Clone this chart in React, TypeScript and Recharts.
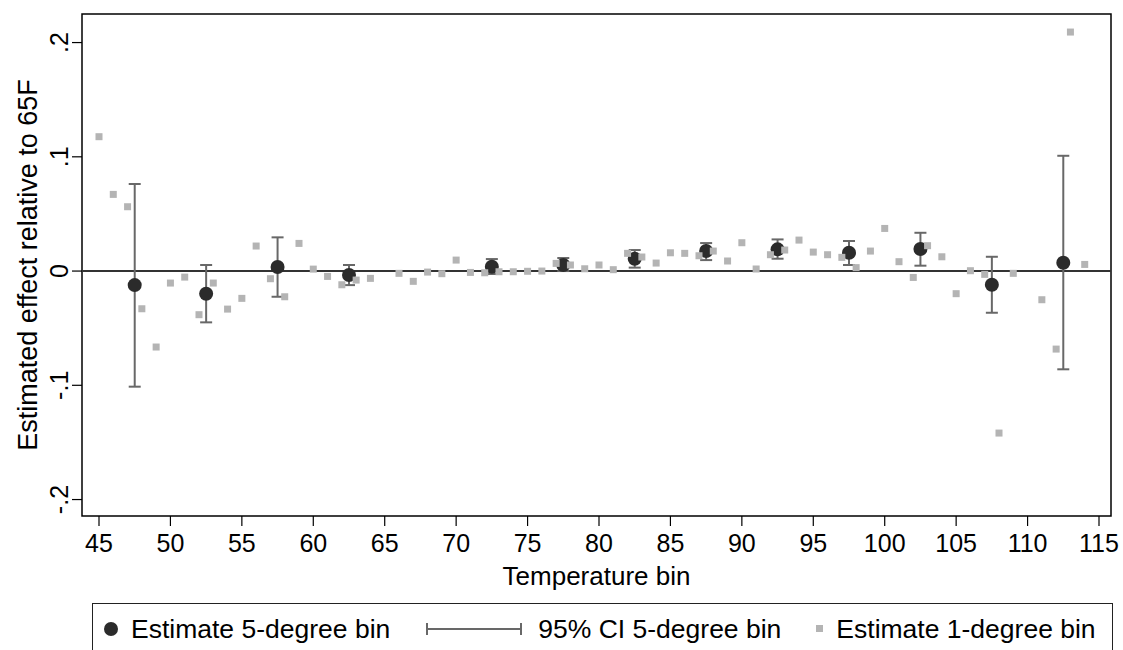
import {
  ScatterChart, Scatter, XAxis, YAxis, ErrorBar, ReferenceLine, ReferenceArea,
} from 'recharts';

// 5-degree bins (65-70 is the omitted reference bin)
const binCenters = [47.5, 52.5, 57.5, 62.5, 72.5, 77.5, 82.5, 87.5, 92.5, 97.5, 102.5, 107.5, 112.5];
const binEstimates = [-0.0123, -0.0198, 0.0035, -0.0035, 0.0038, 0.0053, 0.0108, 0.0175, 0.019, 0.016, 0.0193, -0.012, 0.0073];
const ciLower = [-0.1012, -0.0449, -0.0225, -0.0123, -0.0026, 0.0, 0.003, 0.0096, 0.0108, 0.0053, 0.0047, -0.0365, -0.086];
const ciUpper = [0.0762, 0.0053, 0.0295, 0.0053, 0.0105, 0.0114, 0.0184, 0.0245, 0.0277, 0.0263, 0.0335, 0.0125, 0.1009];

// 1-degree bins (65 omitted, 110 not shown)
const degreeTemps = [
  45, 46, 47, 48, 49, 50, 51, 52, 53, 54, 55, 56, 57, 58, 59, 60, 61, 62, 63, 64,
  66, 67, 68, 69, 70, 71, 72, 73, 74, 75, 76, 77, 78, 79, 80, 81, 82, 83, 84, 85,
  86, 87, 88, 89, 90, 91, 92, 93, 94, 95, 96, 97, 98, 99, 100, 101, 102, 103, 104, 105,
  106, 107, 108, 109, 111, 112, 113, 114,
];
const degreeEstimates = [
  0.1176, 0.0671, 0.0563, -0.033, -0.0665, -0.0105, -0.0053, -0.0382, -0.0105, -0.0333,
  -0.0239, 0.0219, -0.0067, -0.0225, 0.0242, 0.0017, -0.0047, -0.012, -0.0079, -0.0064,
  -0.002, -0.009, -0.0009, -0.0023, 0.0096, -0.0012, -0.0015, -0.0006, -0.0006, -0.0002,
  0.0, 0.0067, 0.0053, 0.002, 0.0053, 0.0012, 0.0155, 0.0123, 0.007, 0.016,
  0.0155, 0.0134, 0.0175, 0.0088, 0.0248, 0.0018, 0.0143, 0.0184, 0.0271, 0.0166,
  0.0143, 0.012, 0.003, 0.0175, 0.0373, 0.0082, -0.0056, 0.0222, 0.0125, -0.0198,
  0.0003, -0.0029, -0.1418, -0.002, -0.0251, -0.0683, 0.2092, 0.0058,
];

const xTicks = [45, 50, 55, 60, 65, 70, 75, 80, 85, 90, 95, 100, 105, 110, 115];
const yTicks = [-0.2, -0.1, 0, 0.1, 0.2];

const X_MIN = 43.81;
const X_MAX = 115.84;
const Y_MIN = -0.2144;
const Y_MAX = 0.225;

const FONT = '"Liberation Sans", Arial, sans-serif';
const DOT = '#2b2b2b';
const CI = '#686868';
const SQ = '#b4b4b4';

const binData = binCenters.map((x, i) => ({
  x,
  y: binEstimates[i],
  err: [binEstimates[i] - ciLower[i], ciUpper[i] - binEstimates[i]],
}));
const degreeData = degreeTemps.map((x, i) => ({ x, y: degreeEstimates[i] }));

const fmtY = (v: number) => (v === 0 ? '0' : v.toFixed(1).replace('0.', '.'));

function YTick(props: any) {
  const { x, y, payload } = props;
  return (
    <text
      transform={`translate(${x - 2},${y}) rotate(-90)`}
      textAnchor="middle"
      fontSize={25}
      fontFamily={FONT}
      fill="#000"
    >
      {fmtY(payload.value)}
    </text>
  );
}

export default function App() {
  return (
    <div style={{ position: 'absolute', left: 0, top: 0, width: 1123, height: 650, overflow: 'hidden', background: '#fff', fontFamily: FONT }}>
      <ScatterChart width={1123} height={650} margin={{ top: 14, right: 12, bottom: 59, left: 0 }}>
        <XAxis
          type="number"
          dataKey="x"
          domain={[X_MIN, X_MAX]}
          ticks={xTicks}
          allowDataOverflow
          axisLine={false}
          tickLine={{ stroke: '#000', strokeWidth: 1.2 }}
          tickSize={10}
          tickMargin={8}
          height={75}
          tick={{ fontSize: 25, fill: '#000', fontFamily: FONT }}
          label={({ viewBox }: any) => (
            <text
              x={viewBox.x + viewBox.width / 2}
              y={viewBox.y + 69}
              textAnchor="middle"
              fontSize={26}
              fontFamily={FONT}
              fill="#000"
            >
              Temperature bin
            </text>
          )}
        />
        <YAxis
          type="number"
          dataKey="y"
          domain={[Y_MIN, Y_MAX]}
          ticks={yTicks}
          allowDataOverflow
          axisLine={false}
          tickLine={{ stroke: '#000', strokeWidth: 1.2 }}
          tickSize={10}
          width={82}
          tick={<YTick />}
          label={({ viewBox }: any) => (
            <text
              transform={`translate(37,${viewBox.y + viewBox.height / 2}) rotate(-90)`}
              textAnchor="middle"
              fontSize={27}
              fontFamily={FONT}
              fill="#000"
            >
              Estimated effect relative to 65F
            </text>
          )}
        />
        <ReferenceLine y={0} stroke="#333" strokeWidth={2} />
        <Scatter
          data={binData}
          isAnimationActive={false}
          shape={(p: any) => <circle cx={p.cx} cy={p.cy} r={7} fill={DOT} />}
        />
        <Scatter data={binData} isAnimationActive={false} shape={() => <g />}>
          <ErrorBar dataKey="err" direction="y" width={6} stroke={CI} strokeWidth={2} />
        </Scatter>
        <Scatter
          data={degreeData}
          isAnimationActive={false}
          shape={(p: any) => <rect x={p.cx - 3.5} y={p.cy - 3.5} width={7} height={7} fill={SQ} />}
        />
        <ReferenceArea
          x1={X_MIN}
          x2={X_MAX}
          y1={Y_MIN}
          y2={Y_MAX}
          fill="none"
          stroke="#000"
          strokeWidth={1.5}
          ifOverflow="visible"
        />
      </ScatterChart>

      <div
        style={{
          position: 'absolute', left: 92, top: 603, width: 1021, height: 70,
          border: '1.5px solid #222', boxSizing: 'border-box',
          display: 'flex', alignItems: 'flex-start', paddingTop: 10, paddingLeft: 11,
          fontSize: 26.5, color: '#000', lineHeight: '30px', whiteSpace: 'nowrap',
        }}
      >
        <span style={{ display: 'flex', alignItems: 'center' }}>
          <svg width={14} height={30}><circle cx={7} cy={15} r={7} fill={DOT} /></svg>
          <span style={{ marginLeft: 13 }}>Estimate 5-degree bin</span>
        </span>
        <span style={{ display: 'flex', alignItems: 'center', marginLeft: 36 }}>
          <svg width={96} height={30}>
            <line x1={1} y1={15} x2={95} y2={15} stroke={CI} strokeWidth={2} />
            <line x1={1} y1={9} x2={1} y2={21} stroke={CI} strokeWidth={2} />
            <line x1={95} y1={9} x2={95} y2={21} stroke={CI} strokeWidth={2} />
          </svg>
          <span style={{ marginLeft: 16 }}>95% CI 5-degree bin</span>
        </span>
        <span style={{ display: 'flex', alignItems: 'center', marginLeft: 35 }}>
          <svg width={7} height={30}><rect x={0} y={11} width={7} height={7} fill={SQ} /></svg>
          <span style={{ marginLeft: 13 }}>Estimate 1-degree bin</span>
        </span>
      </div>
    </div>
  );
}
